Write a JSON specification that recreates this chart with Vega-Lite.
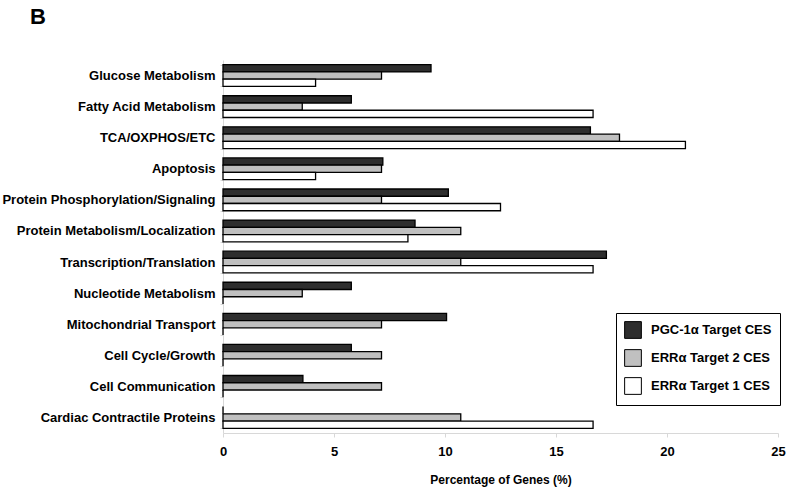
{
  "$schema": "https://vega.github.io/schema/vega-lite/v6.json",
  "autosize": {"type": "none"},
  "width": 555,
  "height": 373,
  "padding": {"left": 223, "top": 60, "right": 22, "bottom": 62},
  "background": "white",
  "title": {"text": "B", "anchor": "start", "frame": "group", "dx": -193, "offset": 25, "fontSize": 22, "font": "Liberation Sans", "fontWeight": "bold", "color": "black"},
  "config": {"view": {"stroke": null}, "font": "Liberation Sans"},
  "data": {"values": [
    {"category": "Glucose Metabolism", "series": "PGC-1α Target CES", "value": 9.37},
    {"category": "Glucose Metabolism", "series": "ERRα Target 2 CES", "value": 7.14},
    {"category": "Glucose Metabolism", "series": "ERRα Target 1 CES", "value": 4.17},
    {"category": "Fatty Acid Metabolism", "series": "PGC-1α Target CES", "value": 5.78},
    {"category": "Fatty Acid Metabolism", "series": "ERRα Target 2 CES", "value": 3.57},
    {"category": "Fatty Acid Metabolism", "series": "ERRα Target 1 CES", "value": 16.67},
    {"category": "TCA/OXPHOS/ETC", "series": "PGC-1α Target CES", "value": 16.55},
    {"category": "TCA/OXPHOS/ETC", "series": "ERRα Target 2 CES", "value": 17.86},
    {"category": "TCA/OXPHOS/ETC", "series": "ERRα Target 1 CES", "value": 20.83},
    {"category": "Apoptosis", "series": "PGC-1α Target CES", "value": 7.2},
    {"category": "Apoptosis", "series": "ERRα Target 2 CES", "value": 7.14},
    {"category": "Apoptosis", "series": "ERRα Target 1 CES", "value": 4.17},
    {"category": "Protein Phosphorylation/Signaling", "series": "PGC-1α Target CES", "value": 10.15},
    {"category": "Protein Phosphorylation/Signaling", "series": "ERRα Target 2 CES", "value": 7.14},
    {"category": "Protein Phosphorylation/Signaling", "series": "ERRα Target 1 CES", "value": 12.5},
    {"category": "Protein Metabolism/Localization", "series": "PGC-1α Target CES", "value": 8.65},
    {"category": "Protein Metabolism/Localization", "series": "ERRα Target 2 CES", "value": 10.71},
    {"category": "Protein Metabolism/Localization", "series": "ERRα Target 1 CES", "value": 8.33},
    {"category": "Transcription/Translation", "series": "PGC-1α Target CES", "value": 17.27},
    {"category": "Transcription/Translation", "series": "ERRα Target 2 CES", "value": 10.71},
    {"category": "Transcription/Translation", "series": "ERRα Target 1 CES", "value": 16.67},
    {"category": "Nucleotide Metabolism", "series": "PGC-1α Target CES", "value": 5.78},
    {"category": "Nucleotide Metabolism", "series": "ERRα Target 2 CES", "value": 3.57},
    {"category": "Nucleotide Metabolism", "series": "ERRα Target 1 CES", "value": 0},
    {"category": "Mitochondrial Transport", "series": "PGC-1α Target CES", "value": 10.07},
    {"category": "Mitochondrial Transport", "series": "ERRα Target 2 CES", "value": 7.14},
    {"category": "Mitochondrial Transport", "series": "ERRα Target 1 CES", "value": 0},
    {"category": "Cell Cycle/Growth", "series": "PGC-1α Target CES", "value": 5.78},
    {"category": "Cell Cycle/Growth", "series": "ERRα Target 2 CES", "value": 7.14},
    {"category": "Cell Cycle/Growth", "series": "ERRα Target 1 CES", "value": 0},
    {"category": "Cell Communication", "series": "PGC-1α Target CES", "value": 3.6},
    {"category": "Cell Communication", "series": "ERRα Target 2 CES", "value": 7.14},
    {"category": "Cell Communication", "series": "ERRα Target 1 CES", "value": 0},
    {"category": "Cardiac Contractile Proteins", "series": "PGC-1α Target CES", "value": 0},
    {"category": "Cardiac Contractile Proteins", "series": "ERRα Target 2 CES", "value": 10.71},
    {"category": "Cardiac Contractile Proteins", "series": "ERRα Target 1 CES", "value": 16.67}
  ]},
  "mark": {"type": "bar", "stroke": "black", "strokeWidth": 1.3, "cornerRadius": 0},
  "encoding": {
    "y": {
      "field": "category", "type": "nominal", "sort": null,
      "scale": {"paddingInner": 0.3, "paddingOuter": 0.15},
      "axis": {"title": null, "labelFontSize": 13, "labelFontWeight": "bold", "labelColor": "black", "labelPadding": 5, "labelLimit": 400, "domainColor": "#d8d8d8", "tickColor": "#d8d8d8", "tickBand": "extent", "tickSize": 3, "labelFont": "Liberation Sans"}
    },
    "yOffset": {"field": "series", "type": "nominal", "sort": ["PGC-1α Target CES", "ERRα Target 2 CES", "ERRα Target 1 CES"], "scale": {"paddingInner": 0, "paddingOuter": 0}},
    "x": {
      "field": "value", "type": "quantitative",
      "scale": {"domain": [0, 25], "nice": false},
      "axis": {"title": "Percentage of Genes (%)", "titleFontSize": 12, "titleFontWeight": "bold", "titleColor": "black", "titlePadding": 16, "labelFontSize": 13, "labelFontWeight": "bold", "labelColor": "black", "labelPadding": 8, "values": [0, 5, 10, 15, 20, 25], "grid": false, "domainColor": "#d8d8d8", "tickColor": "#d8d8d8", "tickSize": 4, "labelFlush": false}
    },
    "fill": {
      "field": "series", "type": "nominal",
      "scale": {"domain": ["PGC-1α Target CES", "ERRα Target 2 CES", "ERRα Target 1 CES"], "range": ["#2e2e2e", "#c0c0c0", "#ffffff"]},
      "legend": {"title": null, "orient": "none", "legendX": 393, "legendY": 253, "direction": "vertical", "strokeColor": "black", "padding": 8, "symbolType": "square", "symbolSize": 280, "symbolStrokeColor": "black", "symbolStrokeWidth": 1, "labelFontSize": 13, "labelFontWeight": "bold", "labelColor": "black", "labelFont": "Liberation Sans", "rowPadding": 6, "labelOffset": 9}
    }
  }
}
